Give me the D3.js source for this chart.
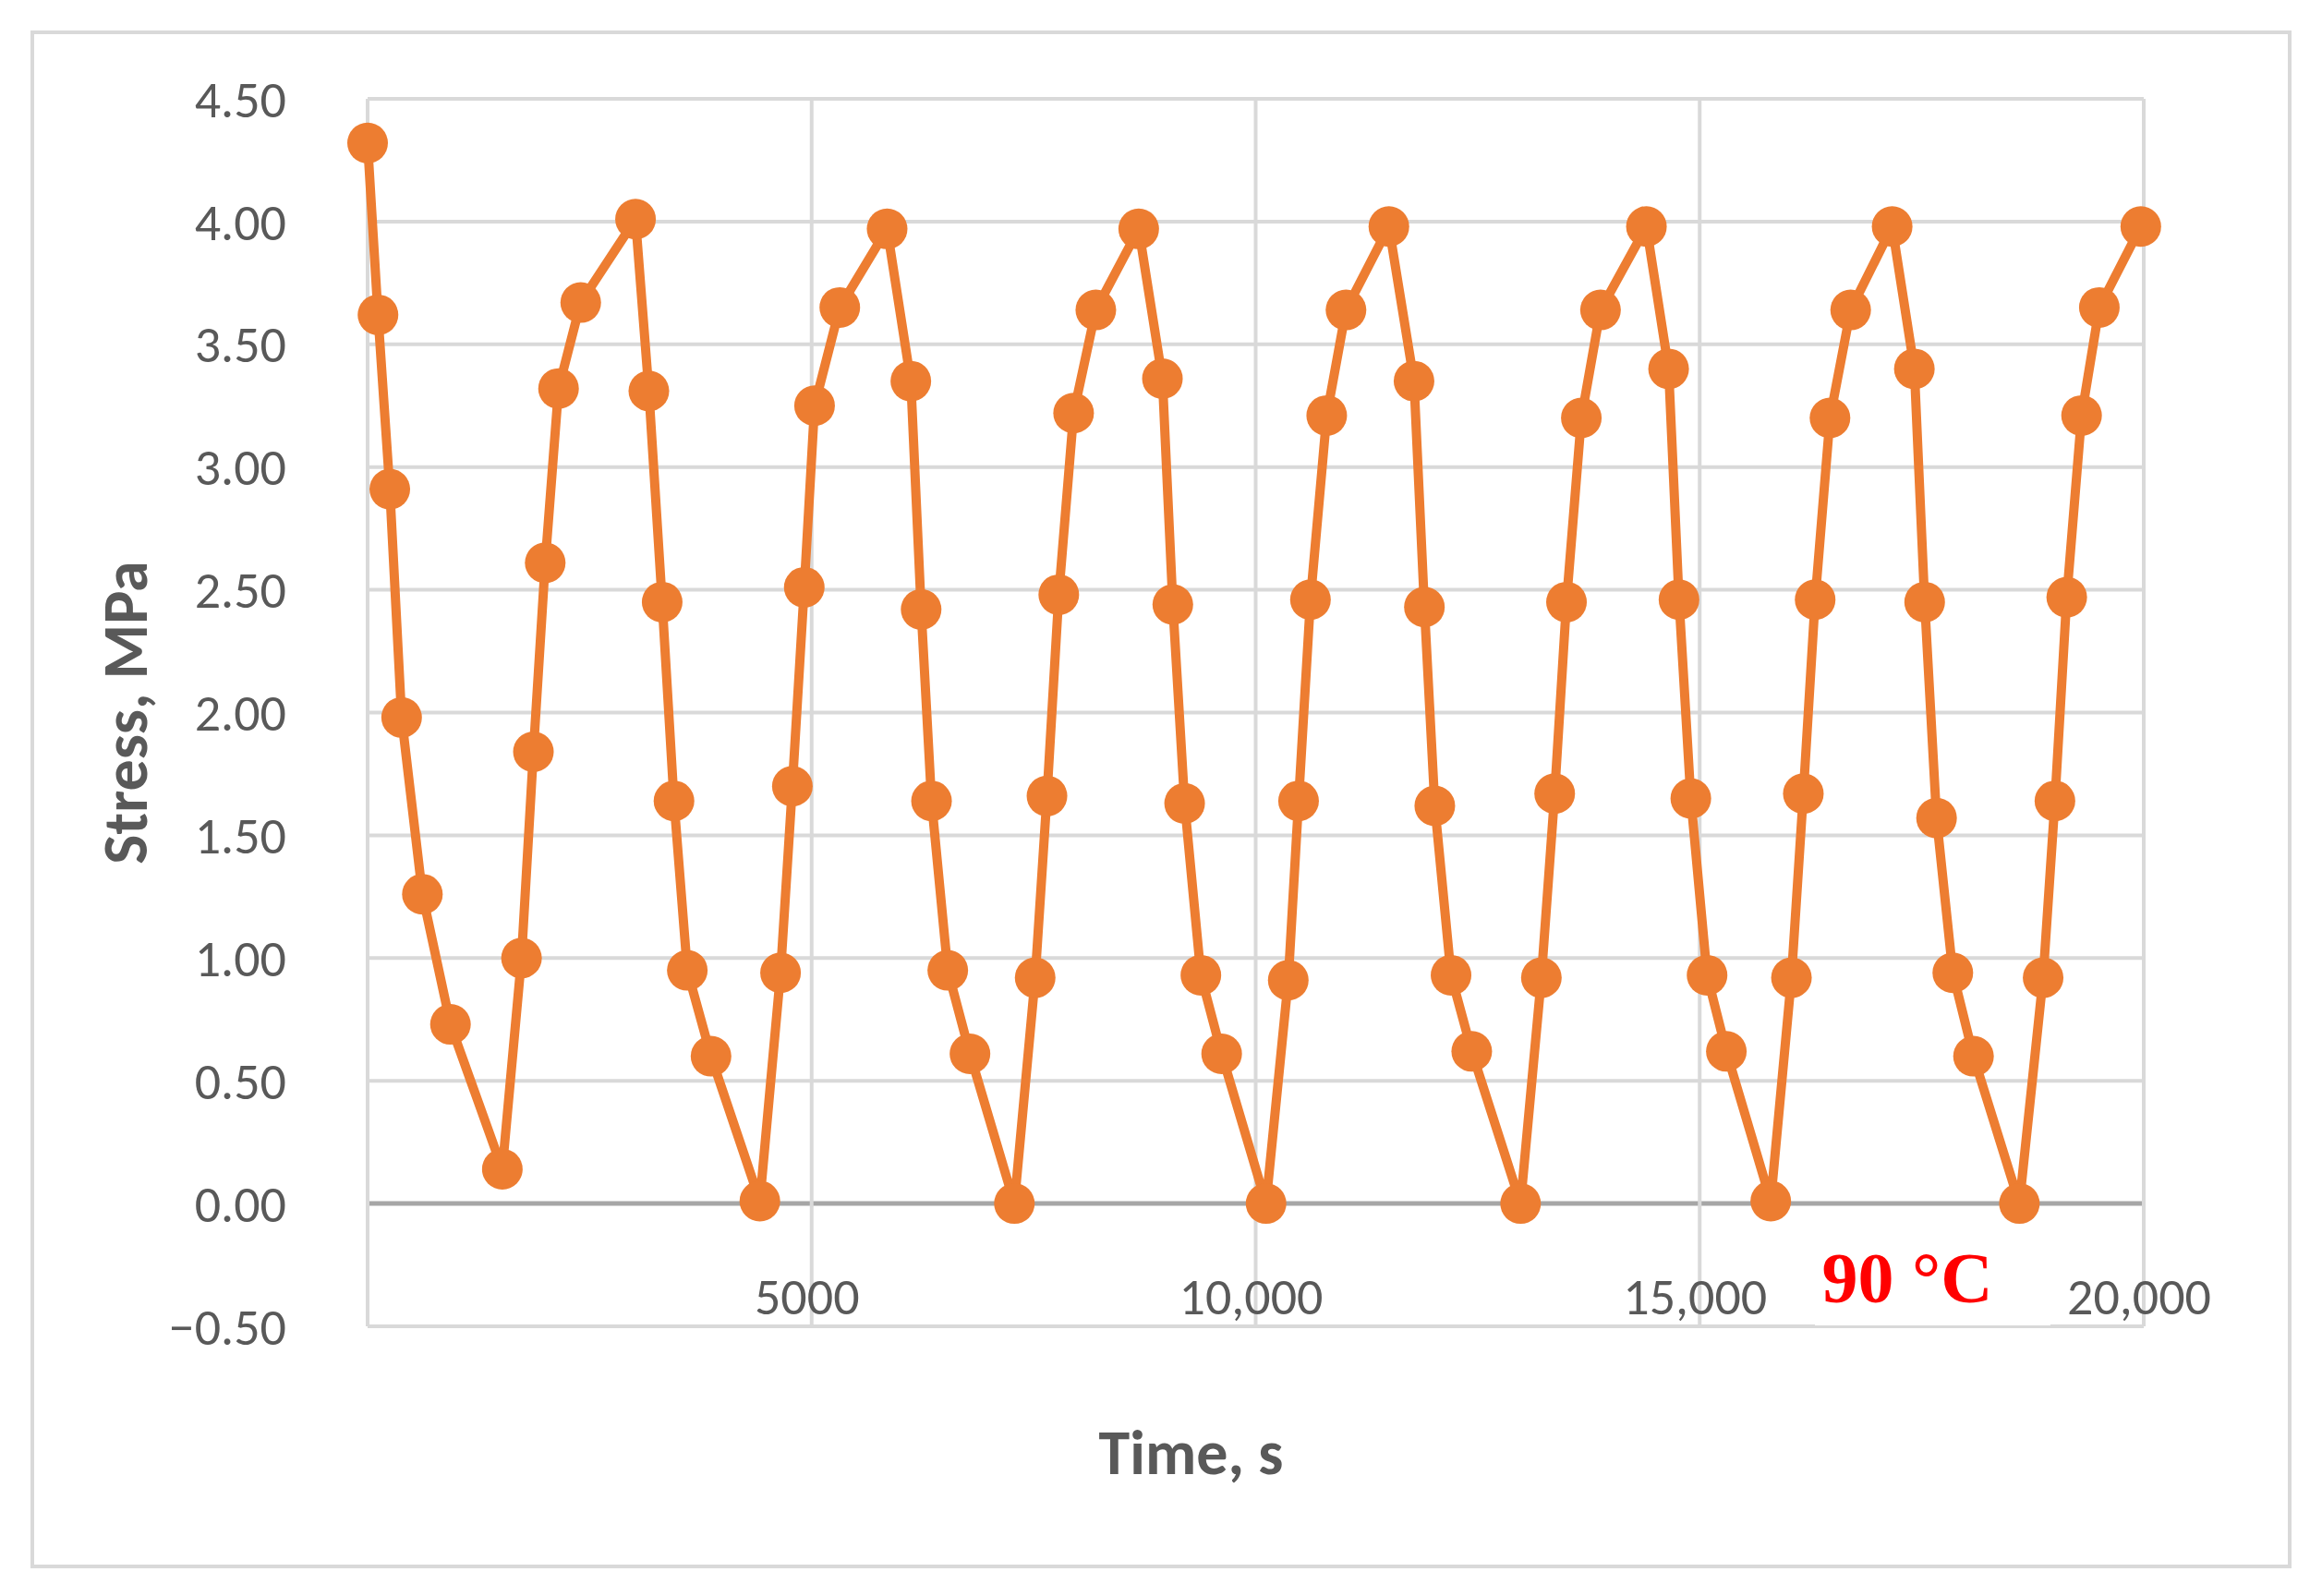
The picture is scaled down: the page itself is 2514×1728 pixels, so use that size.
<!DOCTYPE html>
<html><head><meta charset="utf-8">
<script src="https://cdn.jsdelivr.net/npm/d3@7"></script>
<style>body{margin:0;background:#fff}</style></head>
<body><svg id="c" width="2514" height="1728"></svg>
<script>
const times=[0,117,250,383,617,933,1517,1733,1867,2000,2150,2400,3017,3167,3317,3450,3600,3867,4417,4650,4783,4917,5033,5317,5850,6117,6233,6350,6533,6783,7283,7517,7650,7783,7950,8200,8683,8950,9067,9200,9383,9617,10117,10367,10483,10617,10800,11017,11500,11783,11900,12017,12200,12433,12983,13217,13367,13500,13667,13883,14400,14650,14767,14900,15083,15300,15800,16033,16167,16300,16467,16700,17167,17417,17533,17667,17850,18083,18600,18867,19000,19133,19300,19500,19967];
const stress=[4.32,3.62,2.91,1.98,1.26,0.73,0.14,1.00,1.84,2.61,3.32,3.67,4.01,3.31,2.45,1.64,0.95,0.60,0.01,0.94,1.70,2.51,3.25,3.65,3.97,3.35,2.42,1.64,0.95,0.61,0.00,0.92,1.66,2.48,3.22,3.64,3.97,3.36,2.44,1.63,0.93,0.61,0.00,0.91,1.64,2.46,3.21,3.64,3.98,3.35,2.43,1.62,0.93,0.62,0.00,0.92,1.67,2.45,3.20,3.64,3.98,3.40,2.46,1.65,0.93,0.62,0.01,0.92,1.67,2.46,3.20,3.64,3.98,3.40,2.45,1.57,0.94,0.60,0.00,0.92,1.64,2.47,3.21,3.65,3.98];
const yTicks=[-0.5,0,0.5,1,1.5,2,2.5,3,3.5,4,4.5];
const xTicks=[5000,10000,15000,20000];
const xLabels=["5000","10,000","15,000","20,000"];
const svg=d3.select("#c");
const x=d3.scaleLinear().domain([0,20000]).range([398,2321]);
const y=d3.scaleLinear().domain([-0.5,4.5]).range([1436,107]);
const font="Calibri, 'Open Sans', sans-serif";
svg.append("rect").attr("x",35).attr("y",35).attr("width",2444).attr("height",1661).attr("fill","#fff").attr("stroke","#d9d9d9").attr("stroke-width",4);
svg.append("g").selectAll("line").data(yTicks).join("line").attr("x1",x(0)).attr("x2",x(20000)).attr("y1",d=>y(d)).attr("y2",d=>y(d)).attr("stroke",d=>d===0?"#a6a6a6":"#d9d9d9").attr("stroke-width",d=>d===0?5:4);
svg.append("g").selectAll("line").data([0].concat(xTicks)).join("line").attr("x1",d=>x(d)).attr("x2",d=>x(d)).attr("y1",y(-0.5)).attr("y2",y(4.5)).attr("stroke","#d9d9d9").attr("stroke-width",4);
svg.append("g").selectAll("text").data(yTicks).join("text").attr("x",310).attr("y",d=>y(d)).attr("dy","0.35em").attr("text-anchor","end").attr("font-family",font).attr("font-size",56).attr("fill","#595959").text(d=>(d<0?"\u2212":"")+Math.abs(d).toFixed(2));
svg.append("g").selectAll("text").data(xTicks).join("text").attr("x",d=>x(d)-5).attr("y",1403).attr("dy","0.35em").attr("text-anchor","middle").attr("font-family",font).attr("font-size",56).attr("fill","#595959").text((d,i)=>xLabels[i]);
svg.append("rect").attr("x",1965).attr("y",1345).attr("width",255).attr("height",90).attr("fill","#fff");
svg.append("text").attr("x",2065).attr("y",1410).attr("text-anchor","middle").attr("font-family","'Liberation Serif','Times New Roman',serif").attr("font-weight","bold").attr("font-size",78).attr("fill","#ff0000").text("90 °C");
svg.append("text").attr("x",x(10000)-70).attr("y",1572).attr("dy","0.35em").attr("text-anchor","middle").attr("font-family",font).attr("font-weight","bold").attr("font-size",68).attr("fill","#595959").text("Time, s");
svg.append("text").attr("transform",`translate(135,${y(2)}) rotate(-90)`).attr("dy","0.35em").attr("text-anchor","middle").attr("font-family",font).attr("font-weight","bold").attr("font-size",68).attr("fill","#595959").text("Stress, MPa");
const pts=times.map((t,i)=>[t,stress[i]]);
svg.append("path").datum(pts).attr("d",d3.line().x(d=>x(d[0])).y(d=>y(d[1]))).attr("fill","none").attr("stroke","#ED7D31").attr("stroke-width",10).attr("stroke-linejoin","round");
svg.append("g").selectAll("circle").data(pts).join("circle").attr("cx",d=>x(d[0])).attr("cy",d=>y(d[1])).attr("r",22).attr("fill","#ED7D31");
</script></body></html>
